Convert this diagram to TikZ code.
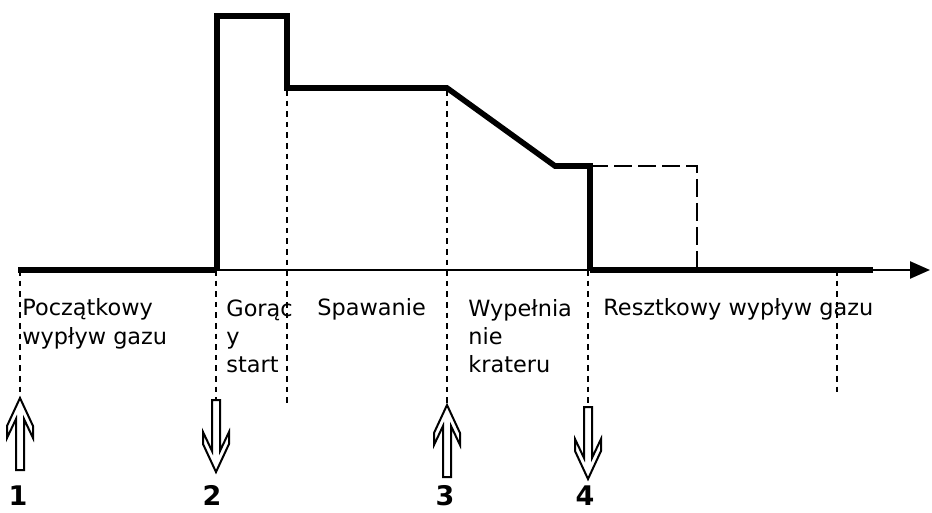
\documentclass[tikz,border=0pt]{standalone}
\usepackage{fontspec}
\setmainfont{DejaVu Sans}
\usetikzlibrary{arrows.meta}

\tikzset{
  pulse/.style={line width=2.8pt, line join=miter},
  marker/.style={line width=1.1pt, dash pattern=on 2.8pt off 2.5pt},
  phase/.style={anchor=base west, inner sep=0pt, align=left, font=\fontsize{11.2}{14}\selectfont},
  stepnum/.style={anchor=base, inner sep=0pt, font=\fontsize{13.5}{14}\selectfont\bfseries},
  trigger/.pic={\draw[line width=1pt, fill=white] (0,0) -- (13,28) -- (13,40) -- (4,21) -- (4,72) -- (-4,72) -- (-4,21) -- (-13,40) -- (-13,28) -- cycle;}
}

\begin{document}
\begin{tikzpicture}[x=0.5pt, y=-0.5pt]
  \useasboundingbox (0,0) rectangle (932,513);
  % time axis
  \coordinate (start) at (18,270);
  \coordinate (end) at (930,270);
  \draw[line width=1.2pt, -{Triangle[length=10pt, width=8.5pt]}] (start) -- (end);
  \draw[pulse] (start) -- (217,270);
  \draw[pulse] (590,270) -- (873,270);
  % current
  \draw[pulse] (217,270) -- (217,16) -- (287,16) -- (287,88) -- (447,88) -- (555,166) -- (590,166) -- (590,270);
  \draw[line width=1pt, dash pattern=on 9pt off 3pt] (590,166) -- (697,166) -- (697,270);
  % phases (base = last line)
  \node[phase] (pre) at (22,344) {Początkowy\\wypływ gazu};
  \node[phase] (hot) at (226,372) {Gorąc\\y\\start};
  \node[phase] (weld) at (317,316) {Spawanie};
  \node[phase] (crater) at (468,372) {Wypełnia\\nie\\krateru};
  \node[phase] (post) at (603,316) {Resztkowy wypływ gazu};
  % markers
  \coordinate (m1) at (20,270);  \coordinate (e1) at (20,398);
  \coordinate (m2) at (216,270); \coordinate (e2) at (216,400);
  \coordinate (m3) at (287,90);  \coordinate (e3) at (287,405);
  \coordinate (m4) at (447,90);  \coordinate (e4) at (447,405);
  \coordinate (m5) at (588,270); \coordinate (e5) at (588,407);
  \coordinate (m6) at (837,270); \coordinate (e6) at (837,395);
  \foreach \i in {1,...,6}
    \draw[marker] (m\i) -- (e\i);
  % torch button
  \pic at (20,398) {trigger};
  \pic[rotate=180] at (216,472) {trigger};
  \pic at (447,405) {trigger};
  \pic[rotate=180] at (588,479) {trigger};
  \node[stepnum] (n1) at (18,505) {1};
  \node[stepnum] (n2) at (212,505) {2};
  \node[stepnum] (n3) at (445,505) {3};
  \node[stepnum] (n4) at (585,505) {4};
\end{tikzpicture}
\end{document}
